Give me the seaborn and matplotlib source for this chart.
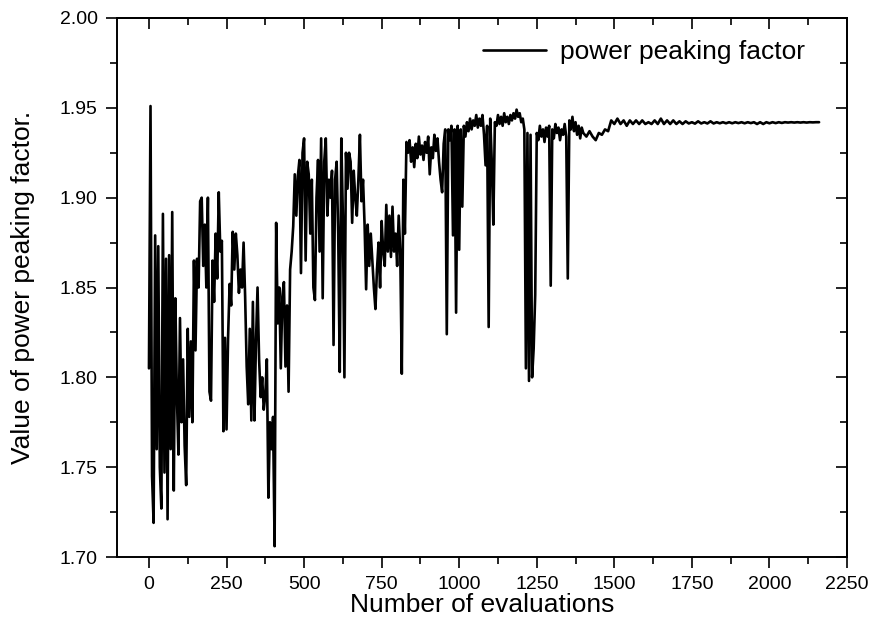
import numpy as np
import pandas as pd
import matplotlib
matplotlib.use("Agg")
import matplotlib.pyplot as plt
import seaborn as sns
from matplotlib.ticker import MultipleLocator

# ---- data ----
evals_a = np.arange(0, 1401, 5)
vals_a = [
    1.805, 1.951, 1.745, 1.719, 1.879, 1.760, 1.873, 1.750, 1.727, 1.891,
    1.747, 1.866, 1.721, 1.868, 1.760, 1.892, 1.737, 1.844, 1.790, 1.757,
    1.833, 1.775, 1.810, 1.762, 1.740, 1.827, 1.778, 1.820, 1.775, 1.865,
    1.815, 1.866, 1.850, 1.898, 1.900, 1.862, 1.885, 1.850, 1.900, 1.792,
    1.787, 1.865, 1.842, 1.880, 1.855, 1.903, 1.870, 1.876, 1.770, 1.822,
    1.771, 1.822, 1.852, 1.840, 1.881, 1.860, 1.880, 1.868, 1.847, 1.860,
    1.850, 1.875, 1.845, 1.806, 1.785, 1.827, 1.776, 1.842, 1.776, 1.820,
    1.850, 1.810, 1.789, 1.800, 1.782, 1.790, 1.810, 1.733, 1.775, 1.760,
    1.778, 1.706, 1.886, 1.830, 1.850, 1.805, 1.845, 1.853, 1.806, 1.840,
    1.792, 1.860, 1.870, 1.884, 1.913, 1.890, 1.912, 1.921, 1.858, 1.925,
    1.933, 1.865, 1.920, 1.913, 1.880, 1.910, 1.850, 1.843, 1.900, 1.921,
    1.870, 1.933, 1.844, 1.920, 1.933, 1.890, 1.910, 1.900, 1.915, 1.818,
    1.910, 1.920, 1.880, 1.803, 1.933, 1.890, 1.800, 1.925, 1.905, 1.925,
    1.920, 1.886, 1.915, 1.900, 1.890, 1.910, 1.935, 1.898, 1.910, 1.885,
    1.849, 1.885, 1.862, 1.880, 1.865, 1.850, 1.838, 1.860, 1.875, 1.850,
    1.887, 1.870, 1.862, 1.896, 1.870, 1.890, 1.867, 1.895, 1.870, 1.880,
    1.862, 1.890, 1.870, 1.802, 1.910, 1.880, 1.931, 1.925, 1.932, 1.920,
    1.928, 1.917, 1.930, 1.922, 1.934, 1.924, 1.929, 1.921, 1.931, 1.925,
    1.934, 1.913, 1.928, 1.922, 1.935, 1.926, 1.933, 1.920, 1.910, 1.903,
    1.930, 1.938, 1.824, 1.938, 1.932, 1.940, 1.879, 1.938, 1.836, 1.940,
    1.871, 1.938, 1.895, 1.940, 1.934, 1.942, 1.937, 1.944, 1.938, 1.943,
    1.940, 1.946, 1.939, 1.944, 1.940, 1.946, 1.935, 1.918, 1.940, 1.828,
    1.944, 1.920, 1.885, 1.942, 1.940, 1.946, 1.941, 1.945, 1.940, 1.947,
    1.942, 1.945, 1.941, 1.946, 1.943, 1.947, 1.944, 1.949, 1.945, 1.947,
    1.942, 1.944, 1.938, 1.805, 1.936, 1.798, 1.935, 1.800, 1.816, 1.846,
    1.936, 1.932, 1.940, 1.934, 1.938, 1.931, 1.939, 1.934, 1.940, 1.851,
    1.938, 1.933, 1.941, 1.936, 1.939, 1.932, 1.938, 1.935, 1.941, 1.934,
    1.855, 1.943, 1.938, 1.945, 1.937, 1.942, 1.935, 1.940, 1.933, 1.939,
    1.936,
]
evals_b = np.arange(1410, 2161, 10)
vals_b = [
    1.934, 1.937, 1.934, 1.932, 1.936, 1.935, 1.938, 1.937, 1.943, 1.941,
    1.944, 1.941, 1.943, 1.940, 1.943, 1.941, 1.943, 1.941, 1.943, 1.941,
    1.942, 1.941, 1.943, 1.941, 1.944, 1.941, 1.943, 1.941, 1.943, 1.941,
    1.9425, 1.941, 1.9425, 1.9413, 1.942, 1.9412, 1.9425, 1.9413, 1.942, 1.9413,
    1.9425, 1.9413, 1.942, 1.9414, 1.942, 1.9414, 1.942, 1.9414, 1.942, 1.9415,
    1.942, 1.9414, 1.942, 1.9415, 1.942, 1.9410, 1.942, 1.9410, 1.942, 1.9414,
    1.942, 1.9415, 1.942, 1.9416, 1.942, 1.9418, 1.942, 1.9418, 1.942, 1.9418,
    1.942, 1.9418, 1.942, 1.9419, 1.942, 1.942,
]
series_label = "power peaking factor"
x_label = "Number of evaluations"
y_label = "Value of power peaking factor."
x_ticks = [0, 250, 500, 750, 1000, 1250, 1500, 1750, 2000, 2250]
y_ticks = [1.70, 1.75, 1.80, 1.85, 1.90, 1.95, 2.00]

df = pd.DataFrame({
    "evals": np.concatenate([evals_a, evals_b]),
    "value": np.concatenate([vals_a, vals_b]),
})

sns.set_style("ticks")
plt.rcParams["font.family"] = ["Liberation Sans", "DejaVu Sans"]
plt.rcParams["text.color"] = "black"
plt.rcParams["axes.labelcolor"] = "black"

W, H = 875, 625
fig = plt.figure(figsize=(W / 100, H / 100), dpi=100)
ax = fig.add_axes([117 / W, 1 - 557 / H, 730 / W, 539 / H])

sns.lineplot(data=df, x="evals", y="value", ax=ax, color="black",
             linewidth=1.9, estimator=None, sort=True, label=series_label)

ax.set_xlim(-103, 2250)
ax.set_ylim(1.70, 2.00)
ax.set_xticks(x_ticks)
ax.set_yticks(y_ticks)
ax.set_xticklabels([str(t) for t in x_ticks])
ax.set_yticklabels([f"{t:.2f}" for t in y_ticks])
ax.xaxis.set_minor_locator(MultipleLocator(125))
ax.yaxis.set_minor_locator(MultipleLocator(0.025))

for s in ax.spines.values():
    s.set_linewidth(1.4)
    s.set_color("black")
    s.set_visible(True)

ax.tick_params(which="major", direction="out", length=8, width=1.2,
               labelsize=14, colors="black", pad=6)
ax.tick_params(which="minor", direction="out", length=5, width=1.2, colors="black")

# inward ticks on top and right
top = ax.secondary_xaxis("top")
top.set_xticks(x_ticks)
top.xaxis.set_minor_locator(MultipleLocator(125))
top.tick_params(which="major", direction="in", length=8, width=1.2, labeltop=False, colors="black")
top.tick_params(which="minor", direction="in", length=5, width=1.2, colors="black")
top.spines["top"].set_linewidth(1.4)
right = ax.secondary_yaxis("right")
right.set_yticks(y_ticks)
right.yaxis.set_minor_locator(MultipleLocator(0.025))
right.tick_params(which="major", direction="in", length=8, width=1.2, labelright=False, colors="black")
right.tick_params(which="minor", direction="in", length=5, width=1.2, colors="black")
right.spines["right"].set_linewidth(1.4)

ax.set_xlabel(x_label, fontsize=19, labelpad=0, color="black")
ax.set_ylabel(y_label, fontsize=19, labelpad=18, color="black")

leg = ax.legend(loc="upper left", bbox_to_anchor=(483 / W, 1 - 40 / H),
                bbox_transform=fig.transFigure, frameon=False, fontsize=19,
                handlelength=2.4, handletextpad=0.5, borderpad=0, borderaxespad=0)
for t in leg.get_texts():
    t.set_color("black")

fig.savefig("out.png", dpi=100)
